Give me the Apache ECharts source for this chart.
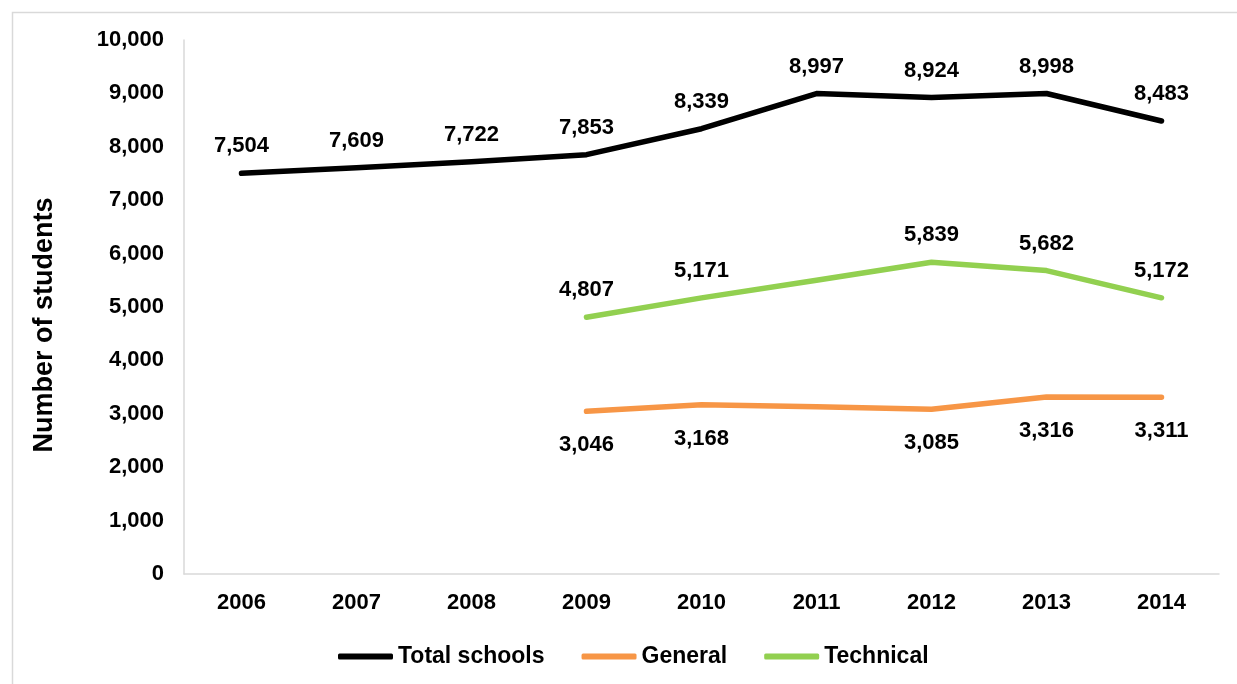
<!DOCTYPE html>
<html><head><meta charset="utf-8">
<script src="https://cdn.jsdelivr.net/npm/echarts@6/dist/echarts.min.js"></script>
<style>html,body{margin:0;padding:0;background:#fff}#c{width:1237px;height:684px}</style>
</head><body><div id="c"></div>
<script>
const years = ['2006','2007','2008','2009','2010','2011','2012','2013','2014'];
const totalSchools = [7504, 7609, 7722, 7853, 8339, 8997, 8924, 8998, 8483];
const general = [null, null, null, 3046, 3168, 3130, 3085, 3316, 3311];
const technical = [null, null, null, 4807, 5171, 5500, 5839, 5682, 5172];
const hideLabelYears = ['2011'];
const yTicks = [0,1000,2000,3000,4000,5000,6000,7000,8000,9000,10000];

const fmt = v => v.toLocaleString('en-US');
const font = '"Liberation Sans", Arial, sans-serif';
function mk(name, arr, color, pos, dist, hideSome) {
  return {
    name, type: 'line', data: arr.map((v, i) => ({
      value: v,
      label: { show: v != null && !(hideSome && hideLabelYears.includes(years[i])) }
    })),
    symbol: 'circle', symbolSize: 2, showSymbol: true, connectNulls: false,
    lineStyle: { color, width: 5.5, cap: 'round', join: 'round' },
    itemStyle: { color },
    label: { show: true, position: pos, distance: dist, color: '#000', fontWeight: 'bold', fontSize: 22, fontFamily: font, formatter: p => fmt(p.value) }
  };
}
const chart = echarts.init(document.getElementById('c'));
chart.setOption({
  animation: false,
  graphic: [{ type: 'rect', shape: { x: 12.5, y: 12.5, width: 1400, height: 900 }, style: { fill: 'none', stroke: '#d9d9d9', lineWidth: 1.5 }, z: -1 }],
  grid: { left: 184, right: 18, top: 40, bottom: 110 },
  xAxis: {
    type: 'category', data: years, boundaryGap: true,
    axisLine: { lineStyle: { color: '#d9d9d9', width: 1.5 } },
    axisTick: { show: false },
    axisLabel: { color: '#000', fontWeight: 'bold', fontSize: 22, fontFamily: font, margin: 18 }
  },
  yAxis: {
    type: 'value', min: 0, max: 10000, interval: 1000,
    axisLine: { show: true, lineStyle: { color: '#d9d9d9', width: 1.5 } },
    axisTick: { show: false },
    splitLine: { show: false },
    axisLabel: { color: '#000', fontWeight: 'bold', fontSize: 22, fontFamily: font, margin: 20, formatter: v => yTicks.includes(v) ? fmt(v) : '' },
    name: 'Number of students', nameLocation: 'middle', nameGap: 126,
    nameTextStyle: { color: '#000', fontWeight: 'bold', fontSize: 27, fontFamily: font, padding: [0, 36, 0, 0] }
  },
  legend: {
    top: 640, left: 333, itemWidth: 55, itemHeight: 6, itemGap: 37,
    icon: 'roundRect',
    textStyle: { color: '#000', fontWeight: 'bold', fontSize: 23, fontFamily: font },
    data: ['Total schools', 'General', 'Technical']
  },
  series: [
    mk('Total schools', totalSchools, '#000000', 'top', 15, false),
    mk('General', general, '#F79646', 'bottom', 22, true),
    mk('Technical', technical, '#92D050', 'top', 15, true)
  ]
});
</script></body></html>
